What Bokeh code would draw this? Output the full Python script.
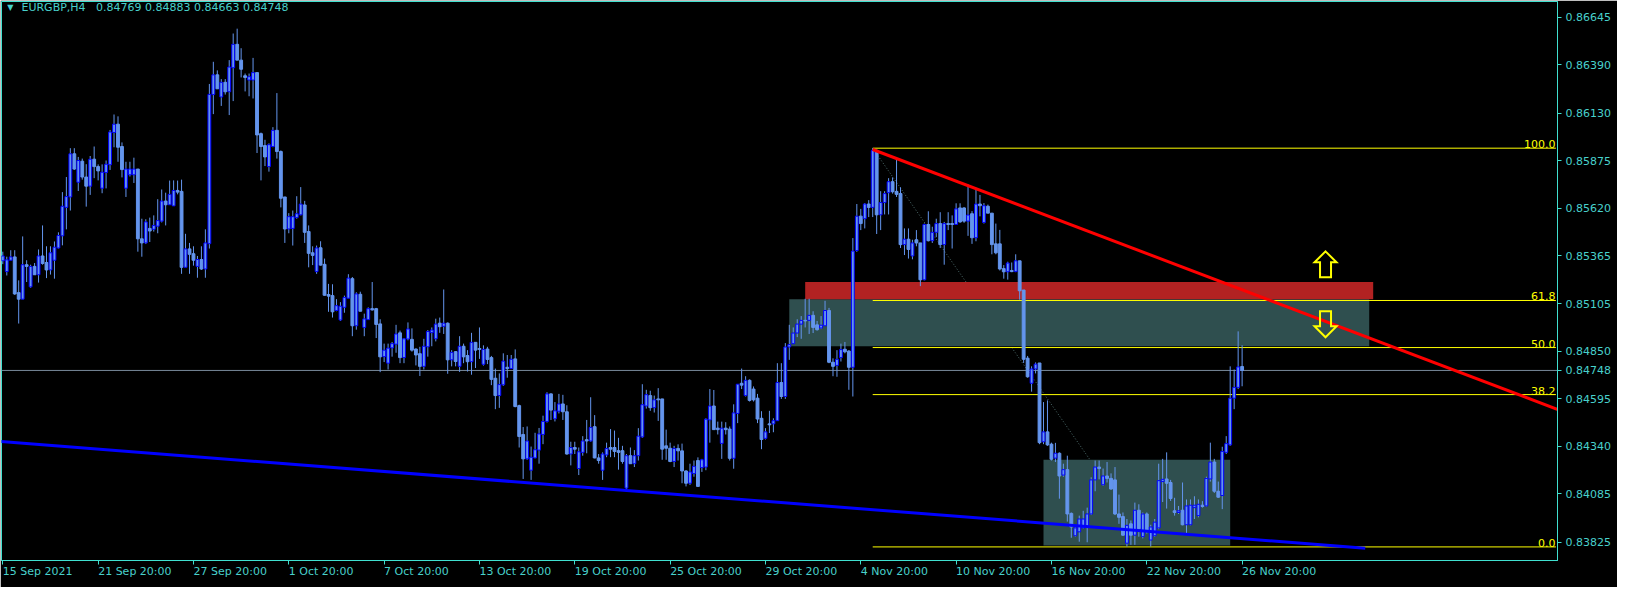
from bokeh.plotting import figure
from bokeh.models import FixedTicker, Range1d
from bokeh.core.properties import value
from bokeh.embed import file_html
from bokeh.resources import INLINE

# ---------------- data (prices in points, 1 point = 0.00001) ----------------
OPEN_PTS = [
    85337, 85279, 85340, 85358, 85166, 85131, 85316, 85197, 85307, 85262,
    85363, 85328, 85288, 85340, 85406, 85471, 85624, 85680, 85912, 85759,
    85872, 85787, 85738, 85883, 85843, 85727, 85811, 85853, 86026, 86071,
    85951, 85727, 85799, 85799, 85830, 85455, 85433, 85511, 85506, 85523,
    85550, 85658, 85638, 85632, 85715, 85710, 85302, 85401, 85375, 85307,
    85344, 85293, 85429, 86230, 86336, 86217, 86296, 86245, 86374, 86500,
    86415, 86331, 86308, 86308, 86348, 86020, 85956, 85843, 85951, 86038,
    85924, 85680, 85508, 85511, 85569, 85584, 85637, 85494, 85380, 85279,
    85407, 85318, 85156, 85150, 85070, 85019, 85087, 85136, 85241, 84988,
    85157, 84979, 85021, 85080, 85080, 84998, 84822, 84787, 84869, 84889,
    84950, 84817, 84917, 84915, 84863, 84838, 84770, 84875, 84951, 84918,
    85002, 84985, 85002, 84805, 84849, 84770, 84878, 84828, 84795, 84899,
    84866, 84781, 84863, 84817, 84706, 84613, 84671, 84765, 84758, 84810,
    84559, 84404, 84273, 84212, 84278, 84320, 84404, 84474, 84622, 84488,
    84529, 84568, 84526, 84299, 84334, 84221, 84308, 84376, 84369, 84446,
    84278, 84212, 84294, 84334, 84334, 84317, 84317, 84116, 84290, 84247,
    84290, 84391, 84557, 84613, 84548, 84595, 84595, 84343, 84330, 84259,
    84329, 84316, 84208, 84142, 84194, 84264, 84226, 84229, 84482, 84557,
    84438, 84356, 84438, 84433, 84276, 84517, 84679, 84613, 84695, 84648,
    84599, 84491, 84383, 84461, 84461, 84478, 84683, 84608, 84874, 84892,
    84949, 84997, 85017, 85017, 85044, 84993, 84976, 84988, 85070, 84792,
    84775, 84817, 84862, 84852, 84765, 85392, 85577, 85563, 85642, 85624,
    85930, 85584, 85650, 85703, 85762, 85710, 85698, 85424, 85453, 85363,
    85450, 85433, 85235, 85532, 85445, 85490, 85537, 85424, 85537, 85537,
    85532, 85621, 85621, 85550, 85590, 85461, 85642, 85543, 85630, 85593,
    85428, 85428, 85295, 85278, 85285, 85279, 85337, 85180, 84814, 84679,
    84756, 84788, 84365, 84418, 84352, 84277, 84303, 84186, 84215, 83980,
    83860, 83881, 83902, 83907, 83977, 84160, 84229, 84134, 84181, 84168,
    84160, 83977, 83963, 83820, 83924, 83863, 83997, 83855, 83977, 83837,
    83860, 83902, 84151, 84165, 84146, 83994, 83985, 83997, 83919, 83919,
    84011, 83968, 84024, 84020, 84165, 84256, 84099, 84076, 84308, 84348,
    84599, 84657, 84769,
]
HIGH_PTS = [
    85386, 85359, 85394, 85394, 85232, 85468, 85340, 85316, 85325, 85398,
    85527, 85415, 85415, 85441, 85490, 85706, 85787, 85942, 85942, 85895,
    85886, 85856, 85900, 85951, 85855, 85855, 85876, 86040, 86123, 86113,
    85973, 85869, 85869, 85891, 85830, 85563, 85560, 85569, 85581, 85668,
    85720, 85703, 85768, 85769, 85768, 85773, 85482, 85433, 85415, 85363,
    85415, 85506, 86287, 86406, 86360, 86313, 86313, 86415, 86558, 86584,
    86479, 86343, 86343, 86427, 86348, 86026, 85987, 85968, 86055, 86238,
    85930, 85680, 85593, 85607, 85684, 85733, 85659, 85527, 85415, 85419,
    85442, 85349, 85213, 85211, 85131, 85115, 85150, 85265, 85250, 85168,
    85171, 85053, 85087, 85223, 85084, 85023, 84892, 84892, 84901, 84993,
    84962, 84922, 85006, 84974, 84866, 84875, 84918, 84965, 84979, 85026,
    85032, 85183, 85006, 84857, 84852, 84932, 84892, 84857, 84950, 84899,
    84979, 84883, 84875, 84826, 84758, 84732, 84840, 84831, 84831, 84861,
    84564, 84444, 84447, 84339, 84413, 84439, 84505, 84631, 84625, 84578,
    84622, 84617, 84561, 84365, 84365, 84334, 84395, 84482, 84604, 84508,
    84299, 84308, 84360, 84433, 84425, 84386, 84343, 84299, 84334, 84320,
    84438, 84674, 84644, 84639, 84613, 84653, 84595, 84430, 84360, 84343,
    84351, 84355, 84212, 84247, 84264, 84281, 84273, 84491, 84648, 84643,
    84473, 84473, 84470, 84447, 84566, 84674, 84758, 84717, 84700, 84662,
    84622, 84529, 84438, 84531, 84491, 84787, 84787, 84895, 84993, 84979,
    85023, 85040, 85133, 85133, 85066, 85014, 85040, 85122, 85084, 84813,
    84857, 84892, 84901, 84857, 85459, 85642, 85616, 85647, 85663, 85942,
    85935, 85711, 85711, 85781, 85785, 85886, 85732, 85511, 85511, 85450,
    85502, 85433, 85537, 85603, 85520, 85563, 85598, 85546, 85598, 85581,
    85646, 85646, 85625, 85747, 85604, 85729, 85691, 85647, 85639, 85593,
    85537, 85503, 85314, 85332, 85328, 85372, 85337, 85180, 84826, 84770,
    84791, 84788, 84578, 84587, 84360, 84359, 84308, 84247, 84290, 83985,
    83916, 83968, 83994, 84011, 84174, 84264, 84264, 84221, 84256, 84195,
    84229, 84081, 83985, 83950, 83942, 84038, 84029, 83985, 83985, 83919,
    83950, 84247, 84273, 84308, 84160, 84064, 84020, 84146, 84055, 84055,
    84072, 84055, 84046, 84177, 84360, 84273, 84151, 84338, 84395, 84770,
    84753, 84958, 84883,
]
LOW_PTS = [
    85319, 85258, 85340, 85154, 85000, 85131, 85223, 85192, 85262, 85220,
    85316, 85244, 85263, 85241, 85403, 85420, 85506, 85607, 85825, 85712,
    85773, 85628, 85691, 85781, 85769, 85700, 85726, 85825, 85947, 85869,
    85785, 85680, 85790, 85755, 85386, 85359, 85427, 85438, 85494, 85485,
    85543, 85527, 85638, 85632, 85694, 85267, 85302, 85267, 85311, 85246,
    85288, 85246, 85403, 86125, 86261, 86169, 86230, 86120, 86195, 86415,
    86322, 86247, 86221, 86209, 85916, 85769, 85846, 85816, 85947, 85886,
    85624, 85433, 85485, 85419, 85563, 85581, 85433, 85302, 85314, 85267,
    85311, 85150, 85063, 85032, 85066, 85014, 85058, 85136, 84932, 84967,
    85066, 84932, 85019, 85070, 84922, 84739, 84793, 84753, 84822, 84843,
    84787, 84787, 84910, 84849, 84775, 84718, 84753, 84822, 84878, 84904,
    84950, 84944, 84730, 84770, 84770, 84740, 84787, 84742, 84725, 84761,
    84810, 84774, 84782, 84669, 84540, 84547, 84665, 84709, 84756, 84550,
    84334, 84165, 84268, 84160, 84276, 84247, 84352, 84468, 84482, 84474,
    84517, 84482, 84296, 84238, 84299, 84186, 84290, 84303, 84365, 84276,
    84247, 84160, 84282, 84282, 84282, 84215, 84247, 84095, 84247, 84229,
    84264, 84386, 84543, 84531, 84522, 84477, 84268, 84268, 84255, 84229,
    84264, 84142, 84125, 84133, 84177, 84125, 84203, 84212, 84360, 84430,
    84404, 84273, 84404, 84264, 84220, 84465, 84648, 84608, 84581, 84581,
    84465, 84325, 84377, 84412, 84416, 84477, 84595, 84595, 84805, 84892,
    84927, 84918, 84979, 84944, 84949, 84962, 84970, 84988, 84787, 84717,
    84714, 84796, 84840, 84644, 84608, 85385, 85502, 85511, 85572, 85572,
    85481, 85502, 85586, 85586, 85698, 85680, 85406, 85368, 85349, 85345,
    85415, 85201, 85232, 85441, 85433, 85464, 85406, 85316, 85502, 85403,
    85532, 85541, 85541, 85471, 85428, 85442, 85576, 85537, 85593, 85372,
    85372, 85285, 85241, 85236, 85276, 85276, 85128, 84788, 84709, 84634,
    84732, 84352, 84352, 84343, 84264, 84256, 84059, 84177, 83936, 83849,
    83855, 83828, 83898, 83825, 83971, 84099, 84163, 84128, 84146, 84107,
    83971, 83924, 83860, 83802, 83811, 83811, 83855, 83846, 83872, 83802,
    83855, 83895, 84041, 84006, 84047, 83968, 83977, 83916, 83872, 83916,
    83950, 83959, 84011, 84017, 84151, 84090, 84064, 84003, 84299, 84343,
    84540, 84648, 84663,
]
CLOSE_PTS = [
    85363, 85342, 85358, 85159, 85131, 85316, 85307, 85307, 85262, 85363,
    85323, 85288, 85380, 85410, 85473, 85630, 85682, 85912, 85830, 85876,
    85787, 85738, 85883, 85843, 85820, 85813, 85856, 86029, 86071, 85947,
    85827, 85830, 85830, 85830, 85455, 85433, 85546, 85497, 85527, 85553,
    85658, 85638, 85694, 85715, 85706, 85302, 85401, 85372, 85340, 85344,
    85293, 85433, 86231, 86336, 86261, 86296, 86245, 86378, 86500, 86415,
    86366, 86322, 86326, 86348, 86013, 85951, 85895, 85961, 86038, 85924,
    85673, 85508, 85574, 85574, 85590, 85642, 85490, 85377, 85366, 85406,
    85314, 85152, 85147, 85063, 85096, 85093, 85140, 85244, 84988, 85159,
    85066, 85025, 85080, 85073, 84995, 84821, 84857, 84868, 84892, 84944,
    84817, 84918, 84971, 84857, 84831, 84770, 84878, 84957, 84965, 84997,
    84983, 85002, 84805, 84845, 84796, 84878, 84821, 84795, 84899, 84857,
    84861, 84861, 84807, 84700, 84613, 84672, 84798, 84758, 84808, 84554,
    84393, 84273, 84369, 84282, 84322, 84407, 84474, 84622, 84535, 84531,
    84568, 84526, 84299, 84334, 84325, 84311, 84369, 84369, 84442, 84278,
    84264, 84299, 84329, 84325, 84313, 84308, 84259, 84290, 84247, 84290,
    84395, 84564, 84618, 84548, 84590, 84590, 84325, 84330, 84259, 84329,
    84316, 84208, 84142, 84203, 84233, 84125, 84268, 84486, 84557, 84430,
    84430, 84438, 84430, 84276, 84520, 84674, 84669, 84695, 84587, 84590,
    84487, 84377, 84418, 84456, 84478, 84683, 84608, 84874, 84887, 84949,
    84997, 85017, 85014, 85044, 84979, 84967, 84991, 85070, 84792, 84770,
    84808, 84860, 84848, 84765, 85389, 85577, 85537, 85642, 85624, 85930,
    85584, 85650, 85698, 85762, 85708, 85694, 85424, 85453, 85398, 85433,
    85433, 85235, 85532, 85445, 85490, 85537, 85424, 85537, 85532, 85532,
    85616, 85546, 85550, 85583, 85461, 85642, 85633, 85633, 85593, 85424,
    85380, 85293, 85278, 85325, 85279, 85337, 85176, 84808, 84714, 84756,
    84782, 84360, 84418, 84348, 84271, 84303, 84181, 84215, 83977, 83907,
    83902, 83950, 83950, 83977, 84160, 84229, 84221, 84181, 84168, 84111,
    83977, 83959, 83863, 83916, 83863, 83997, 83898, 83977, 83889, 83907,
    83933, 84156, 84163, 84142, 84060, 83985, 83994, 83919, 84020, 84024,
    84024, 84029, 84017, 84168, 84256, 84099, 84067, 84313, 84355, 84599,
    84657, 84767, 84748,
]

# x-axis (bar index) tick labels
X_TICKS = [0, 24, 48, 72, 96, 120, 144, 168, 192, 216, 240, 264, 288, 312]
X_LABELS = ["15 Sep 2021", "21 Sep 20:00", "27 Sep 20:00", "1 Oct 20:00", "7 Oct 20:00",
            "13 Oct 20:00", "19 Oct 20:00", "25 Oct 20:00", "29 Oct 20:00", "4 Nov 20:00",
            "10 Nov 20:00", "16 Nov 20:00", "22 Nov 20:00", "26 Nov 20:00"]
# y-axis price ticks
Y_TICKS = [0.86645, 0.86390, 0.86130, 0.85875, 0.85620, 0.85365, 0.85105,
           0.84850, 0.84595, 0.84340, 0.84085, 0.83825]

HEADER = "EURGBP,H4\u00a0\u00a0 0.84769 0.84883 0.84663 0.84748"
LAST_PRICE = 0.84748

# Fibonacci retracement (from bar 219 high to bar 289 low)
FIB_BARS = [219, 289]
FIB_PRICES = [0.85942, 0.83800]
FIB_LEVELS = [0.0, 38.2, 50.0, 61.8, 100.0]

# zones: (left bar, right bar, bottom price, top price)
RED_ZONE = [202, 345, 0.85130, 0.85223]
TEAL_ZONE = [198, 344, 0.84878, 0.85130]
LOW_ZONE = [262, 309, 0.83807, 0.84268]

# trend lines: two anchor points each (bar, price)
RED_TREND = [(219, 0.85935), (390, 0.84550)]
BLUE_TREND = [(0, 0.84365), (343, 0.83793)]

# arrow signs: anchor (bar, price) and direction
ARROWS_BAR = [333, 333]
ARROWS_PRICE = [0.85318, 0.84996]
ARROWS_DIR = [1, -1]

# ---------------- styling ----------------
FONT = "DejaVu Sans"
FG = "#48D1CC"
FRAME = "#40E0D0"
CANDLE = "#6495ED"
BULL_LINE = "#0000FF"
YELLOW = "#FFFF00"

X0, X1 = -0.33, 391.4
Y0, Y1 = 0.83727, 0.86730
FRAME_W, FRAME_H = 1556, 559

p = figure(frame_width=FRAME_W, frame_height=FRAME_H, output_backend="svg",
           toolbar_location=None, tools="",
           x_range=Range1d(X0, X1), y_range=Range1d(Y0, Y1),
           y_axis_location="right",
           min_border_left=1, min_border_top=1, min_border_right=60, min_border_bottom=24,
           background_fill_color="black", border_fill_color="black")
p.outline_line_color = FRAME
p.outline_line_width = 1
p.xgrid.visible = False
p.ygrid.visible = False

for ax in (p.xaxis[0], p.yaxis[0]):
    ax.axis_line_color = FRAME
    ax.major_tick_line_color = FRAME
    ax.major_tick_out = 4
    ax.major_tick_in = 0
    ax.minor_tick_line_color = None
    ax.major_label_text_color = FG
    ax.major_label_text_font = FONT
    ax.major_label_text_font_size = "11px"

p.xaxis.ticker = FixedTicker(ticks=X_TICKS)
p.xaxis.major_label_overrides = {t: l for t, l in zip(X_TICKS, X_LABELS)}
# a tiny negative angle makes Bokeh start each label at its tick (left aligned)
p.xaxis.major_label_orientation = -1e-6
p.xaxis.major_label_standoff = 7
y_ticks_all = Y_TICKS + [LAST_PRICE]
p.yaxis.ticker = FixedTicker(ticks=y_ticks_all)
p.yaxis.major_label_overrides = {t: f"{t:.5f}" for t in y_ticks_all}
p.yaxis.major_label_standoff = 4

# ---------------- derived data ----------------
n = min(len(OPEN_PTS), len(HIGH_PTS), len(LOW_PTS), len(CLOSE_PTS))
opens = [v / 1e5 for v in OPEN_PTS[:n]]
highs = [v / 1e5 for v in HIGH_PTS[:n]]
lows = [v / 1e5 for v in LOW_PTS[:n]]
closes = [v / 1e5 for v in CLOSE_PTS[:n]]
idx = list(range(n))

fib_hi, fib_lo = FIB_PRICES
fib_prices = [fib_lo + (fib_hi - fib_lo) * lv / 100.0 for lv in FIB_LEVELS]

# fib base dotted line (below zones)
p.line(x=FIB_BARS, y=FIB_PRICES, line_color="#4F6F6F", line_width=1, line_dash="1 2")

# zones
for z, col in ((TEAL_ZONE, "#2F4F4F"), (RED_ZONE, "#B22222"), (LOW_ZONE, "#2F4F4F")):
    p.quad(left=[z[0]], right=[z[1]], bottom=[z[2]], top=[z[3]],
           fill_color=col, line_color=None)

# current price line
p.segment(x0=[X0], y0=[LAST_PRICE], x1=[X1], y1=[LAST_PRICE], line_color="#778899", line_width=1)

# fib levels
p.segment(x0=[FIB_BARS[0]] * len(fib_prices), y0=fib_prices,
          x1=[X1 - 0.4] * len(fib_prices), y1=fib_prices,
          line_color=YELLOW, line_width=1)

# candles
bull = [i for i in idx if closes[i] >= opens[i]]
bear = [i for i in idx if closes[i] < opens[i]]
p.segment(x0=idx, y0=lows, x1=idx, y1=highs, line_color=CANDLE, line_width=1)
p.vbar(x=bear, width=0.72,
       top=[opens[i] for i in bear], bottom=[closes[i] for i in bear],
       fill_color=CANDLE, line_color=CANDLE, line_width=1)
p.vbar(x=bull, width=0.72,
       top=[closes[i] for i in bull], bottom=[opens[i] for i in bull],
       fill_color=CANDLE, line_color=BULL_LINE, line_width=1)

# trend lines (extended to the frame edge)
def extend(pts, xa, xb):
    (xa0, ya0), (xb0, yb0) = pts
    k = (yb0 - ya0) / (xb0 - xa0)
    return [xa, xb], [ya0 + k * (xa - xa0), ya0 + k * (xb - xa0)]

rx, ry = extend(RED_TREND, RED_TREND[0][0], X1 + 2)
p.line(x=rx, y=ry, line_color="#FF0000", line_width=3)
bx, by = extend(BLUE_TREND, X0 - 2, BLUE_TREND[1][0])
p.line(x=bx, y=by, line_color="#0000FF", line_width=3)

# fib labels
p.text(x=[X1 - 0.5] * len(fib_prices), y=fib_prices,
       text=[f"{lv:.1f}" for lv in FIB_LEVELS],
       text_font=value(FONT), text_font_size="11px", text_color=YELLOW,
       text_align="right", text_baseline="bottom")

# hollow block arrows (outline shape given in screen pixels around the anchor)
ARROW_SHAPE_PX = [(0, 13), (11, 2), (5.5, 2), (5.5, -13), (-5.5, -13), (-5.5, 2), (-11, 2)]
px_per_bar = FRAME_W / (X1 - X0)
px_per_price = FRAME_H / (Y1 - Y0)
axs, ays = [], []
for bx0, py0, d in zip(ARROWS_BAR, ARROWS_PRICE, ARROWS_DIR):
    axs.append([bx0 + sx / px_per_bar for sx, sy in ARROW_SHAPE_PX])
    ays.append([py0 + d * sy / px_per_price for sx, sy in ARROW_SHAPE_PX])
p.patches(xs=axs, ys=ays, fill_color=None, line_color=YELLOW, line_width=2, line_join="miter")

# header
p.text(x=[1.9], y=[0.86700], text=["\u25bc"], text_font=value(FONT), text_font_size="8px",
       text_color=FG, text_align="center", text_baseline="middle")
p.text(x=[4.7], y=[0.86700], text=[HEADER], text_font=value(FONT), text_font_size="11px",
       text_color=FG, text_align="left", text_baseline="middle")

open("out.html", "w").write(file_html(p, INLINE))
